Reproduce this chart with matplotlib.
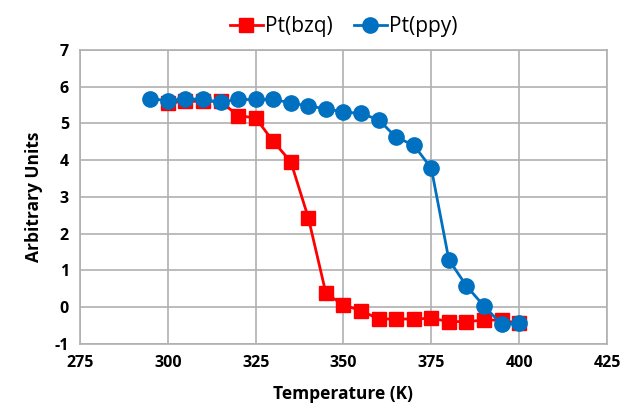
import matplotlib.pyplot as plt

temp_bzq = [300, 305, 310, 315, 320, 325, 330, 335, 340, 345, 350, 355,
            360, 365, 370, 375, 380, 385, 390, 395, 400]
pt_bzq = [5.56, 5.6, 5.6, 5.6, 5.21, 5.15, 4.51, 3.96, 2.43, 0.38, 0.06, -0.09,
          -0.32, -0.32, -0.32, -0.30, -0.39, -0.39, -0.35, -0.35, -0.44]

temp_ppy = [295, 300, 305, 310, 315, 320, 325, 330, 335, 340, 345, 350,
            355, 360, 365, 370, 375, 380, 385, 390, 395, 400]
pt_ppy = [5.67, 5.62, 5.67, 5.65, 5.58, 5.65, 5.65, 5.65, 5.56, 5.47, 5.40, 5.31,
          5.27, 5.10, 4.62, 4.41, 3.78, 1.29, 0.58, 0.03, -0.46, -0.44]

plt.rcParams['font.family'] = ['Open Sans', 'DejaVu Sans']
plt.rcParams['axes.unicode_minus'] = False

fig = plt.figure(figsize=(6.2, 4.19), dpi=100)
ax = fig.add_axes([0.129, 0.179, 0.85, 0.702])

ax.plot(temp_bzq, pt_bzq, color='#FF0000', marker='s', markersize=10,
        linewidth=2, label='Pt(bzq)', zorder=3)
ax.plot(temp_ppy, pt_ppy, color='#0070C0', marker='o', markersize=11,
        linewidth=2, label='Pt(ppy)', zorder=4)

ax.set_xlim(275, 425)
ax.set_ylim(-1, 7)
ax.set_xticks(range(275, 426, 25))
ax.set_yticks(range(-1, 8))
ax.grid(True, color='#b0b0b0', linewidth=1.2)
ax.set_axisbelow(True)
for s in ax.spines.values():
    s.set_color('#b0b0b0')
    s.set_linewidth(1.2)
ax.tick_params(length=0, labelsize=11.5, pad=8)
for lbl in ax.get_xticklabels() + ax.get_yticklabels():
    lbl.set_fontweight('bold')

ax.set_xlabel('Temperature (K)', fontsize=12.5, fontweight='bold', labelpad=10)
ax.set_ylabel('Arbitrary Units', fontsize=12.5, fontweight='bold', labelpad=8)

ax.legend(loc='lower center', bbox_to_anchor=(0.5, 1.0), ncol=2, frameon=False,
          fontsize=15, handlelength=1.6, handletextpad=0.1, columnspacing=1.0,
          borderaxespad=0.2)

fig.savefig('out.png', dpi=100)
